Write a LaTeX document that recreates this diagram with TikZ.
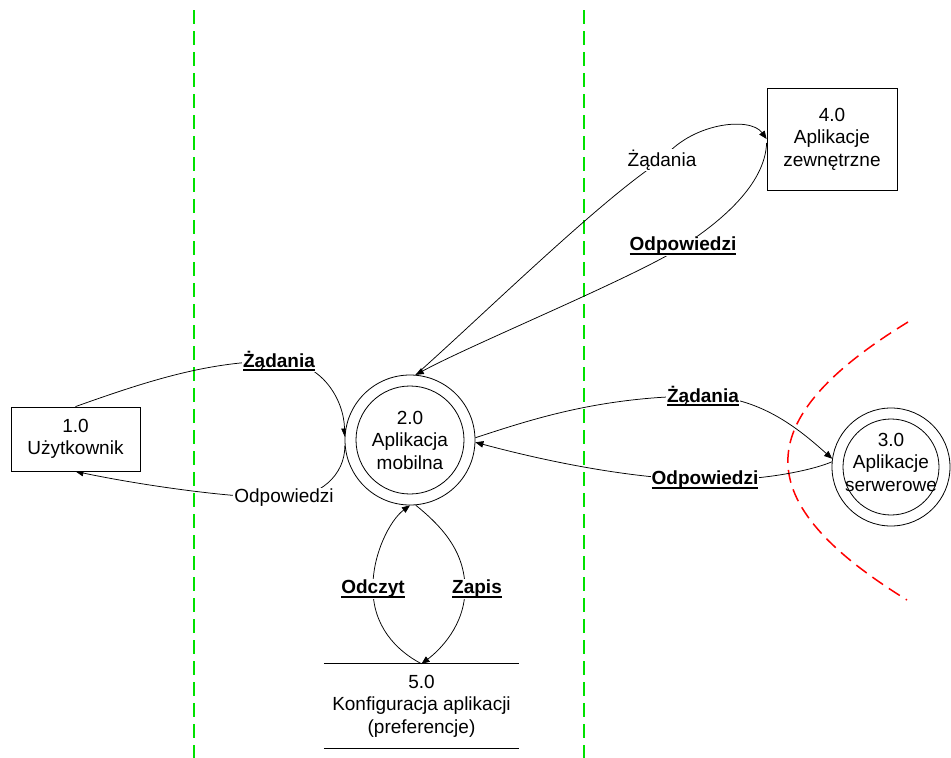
\documentclass[tikz,border=0pt]{standalone}
\usepackage{fontspec}
\setmainfont{Liberation Sans}
\usetikzlibrary{arrows.meta}
\pgfdeclarelayer{bg}
\pgfsetlayers{bg,main}
\definecolor{grn}{RGB}{0,225,0}
\definecolor{rd}{RGB}{255,0,0}
\newcommand{\ulb}[1]{\setbox0=\hbox{\bfseries #1}\rlap{\rule[-3.6pt]{\wd0}{1.5pt}}\box0}
\tikzset{
  every node/.style={font=\fontsize{19pt}{22.5pt}\selectfont, align=center},
  extbox/.style={rectangle, draw, line width=0.8pt, fill=white, inner sep=0pt},
  proc/.style n args={2}{circle, draw, line width=0.8pt, fill=white, minimum size=#1, inner sep=0pt,
    path picture={\draw[line width=0.8pt] (path picture bounding box.center) circle[radius=#2];}},
  lbl/.style={fill=white, inner sep=1pt},
  flow/.style={line width=0.75pt, -{Triangle[length=8pt,width=6.5pt]}},
  bound/.style={grn, line width=1.5pt, dash pattern=on 14pt off 7pt},
  trust/.style={rd, line width=1.5pt, dash pattern=on 13pt off 7pt},
}
\begin{document}
\begin{tikzpicture}[x=1pt,y=-1pt]
\useasboundingbox (0,0) rectangle (951,758);

% nodes
\node[extbox, minimum width=129pt, minimum height=64pt] (u) at (75.5,439) {1.0\\Użytkownik};
\node[extbox, minimum width=130pt, minimum height=102pt] (e) at (832,139) {4.0\\Aplikacje\\zewnętrzne};
\node[proc={130pt}{54pt}] (m) at (410,440) {2.0\\Aplikacja\\mobilna};
\node[proc={118pt}{48pt}] (s) at (891,467) {};
\node (st) at ([yshift=5pt]s.center) {3.0\\Aplikacje\\serwerowe};
\node[minimum width=195pt, minimum height=84pt, inner sep=0pt] (d) at (421.5,706) {5.0\\Konfiguracja aplikacji\\(preferencje)};
\draw[line width=0.8pt] (d.north west) -- (d.north east);
\draw[line width=0.8pt] (d.south west) -- (d.south east);

% labels
\node[lbl] (z1) at (279,361) {\ulb{Żądania}};
\node[lbl] (o1) at (284,498) {Odpowiedzi};
\node[lbl] (z2) at (662,160) {Żądania};
\node[lbl] (o2) at (683,246) {\ulb{Odpowiedzi}};
\node[lbl] (z3) at (703,396) {\ulb{Żądania}};
\node[lbl] (o3) at (705,480) {\ulb{Odpowiedzi}};
\node[lbl] (od) at (373,589) {\ulb{Odczyt}};
\node[lbl] (za) at (477,589) {\ulb{Zapis}};

\begin{pgfonlayer}{bg}
% boundaries
\draw[bound] (194,10) -- (194,758);
\draw[bound] (584,10) -- (584,758);
\draw[trust] (908,322) .. controls (748,420) and (748,502) .. (907,600);

% flows
\draw[flow] (u.north) .. controls (150,380) and (210,361) .. (z1.center)
  .. controls (322,361) and (344,400) .. (m.177);
\draw[flow] (m.185) .. controls (345,475) and (320,498) .. (o1.center)
  .. controls (230,498) and (140,485) .. (u.south);
\draw[flow] (m.85) .. controls (480,318) and (600,200) .. (z2.center)
  .. controls (690,123) and (750,116) .. (e.west);
\draw[flow] ([yshift=-4pt]e.west) .. controls (765,185) and (720,222) .. (o2.center)
  .. controls (640,275) and (470,345) .. (m.85);
\draw[flow] (m.2) .. controls (530,420) and (600,396) .. (z3.center)
  .. controls (760,396) and (800,430) .. (s.172);
\draw[flow] (s.175) .. controls (818,468) and (770,481) .. (o3.center)
  .. controls (640,479) and (560,465) .. (m.358);
\draw[flow] (d.north) .. controls (395,650) and (373,625) .. (od.center)
  .. controls (372,555) and (390,520) .. (m.270);
\draw[flow] (m.275) .. controls (440,525) and (465,550) .. ([xshift=-12pt]za.center)
  .. controls (465,625) and (440,650) .. (d.north);
\end{pgfonlayer}
\end{tikzpicture}
\end{document}
